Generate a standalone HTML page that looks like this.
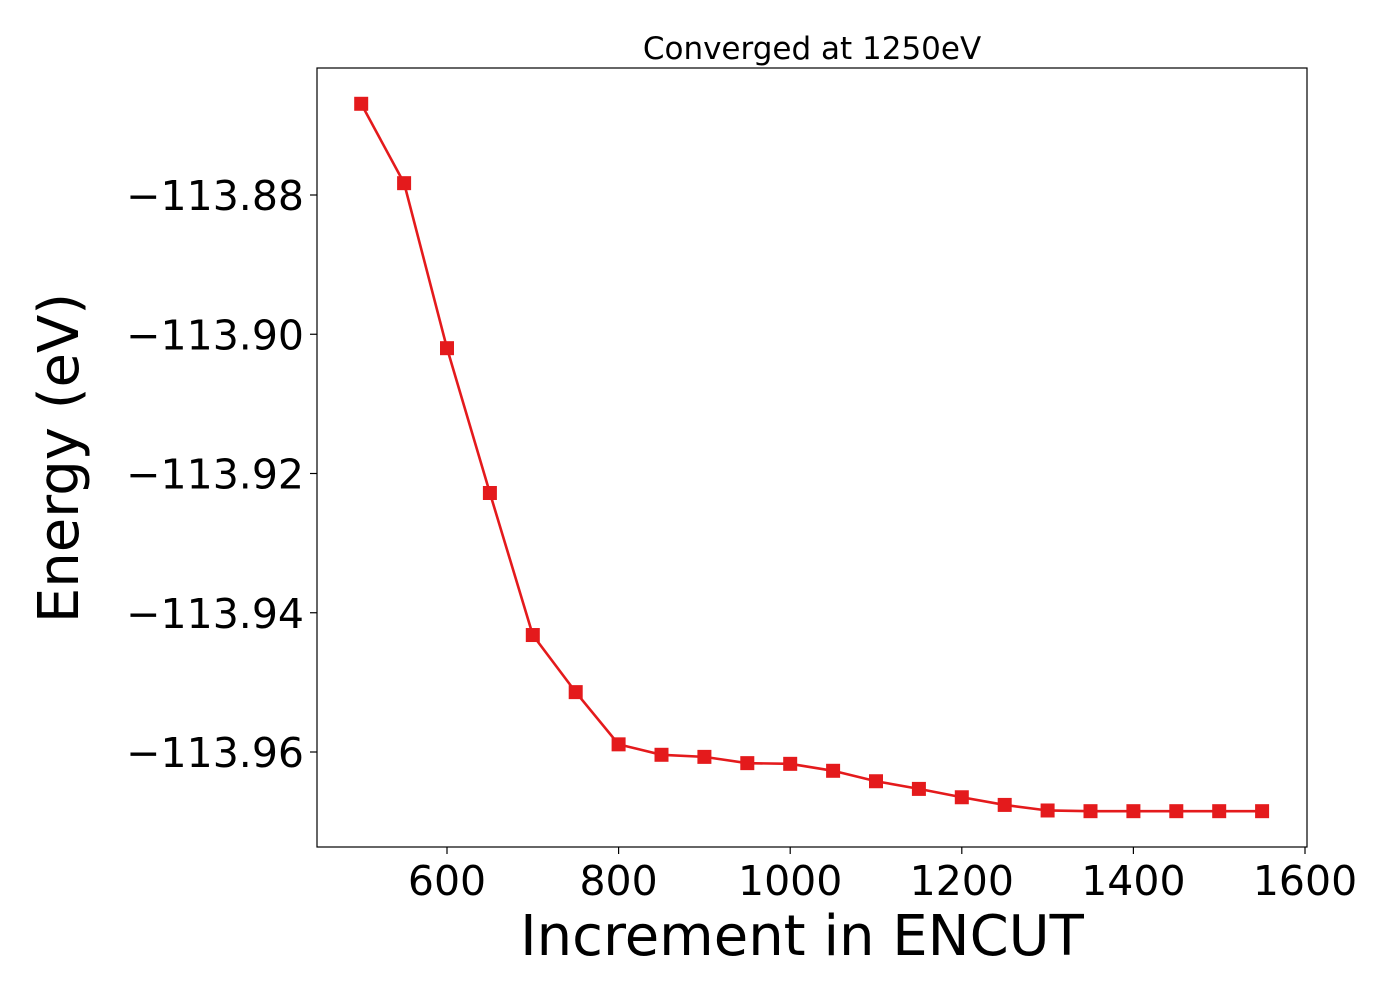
<!DOCTYPE html>
<html><head><meta charset="utf-8"><style>
body{margin:0;background:#fff;}
svg text{font-family:"DejaVu Sans","Liberation Sans",sans-serif;fill:#000;}
</style></head><body>
<svg width="1400" height="1000" viewBox="0 0 1400 1000">
<rect x="0" y="0" width="1400" height="1000" fill="#fff"/>
<g id="ticks"></g>
<g id="series"></g>
<rect x="317" y="68" width="990" height="779" fill="none" stroke="#000" stroke-width="1.2"/>
<text x="812" y="59" font-size="31" text-anchor="middle">Converged at 1250eV</text>
<text x="802" y="955" font-size="56" text-anchor="middle">Increment in ENCUT</text>
<text transform="translate(78,458) rotate(-90)" font-size="56" text-anchor="middle">Energy (eV)</text>
</svg>
<script>
const xValues=[500,550,600,650,700,750,800,850,900,950,1000,1050,1100,1150,1200,1250,1300,1350,1400,1450,1500,1550];
const energies=[-113.8669,-113.8783,-113.9020,-113.9228,-113.9432,-113.9514,-113.9589,-113.9604,-113.9607,-113.9616,-113.9617,-113.9627,-113.9642,-113.9653,-113.9665,-113.9676,-113.9684,-113.9685,-113.9685,-113.9685,-113.9685,-113.9685];
const xTicks=[600,800,1000,1200,1400,1600];
const yTicks=[-113.88,-113.90,-113.92,-113.94,-113.96];
const yTickLabels=["−113.88","−113.90","−113.92","−113.94","−113.96"];
const NS="http://www.w3.org/2000/svg";
function sx(v){return 447+(v-600)*0.858;}
function sy(v){return 195+(-113.88-v)*6962.5;}
const tg=document.getElementById('ticks');
xTicks.forEach(t=>{
 const l=document.createElementNS(NS,'line');
 l.setAttribute('x1',sx(t));l.setAttribute('x2',sx(t));l.setAttribute('y1',847);l.setAttribute('y2',854);l.setAttribute('stroke','#000');l.setAttribute('stroke-width','1.2');
 
 
 tg.appendChild(l);
 const tx=document.createElementNS(NS,'text');
 tx.setAttribute('x',sx(t));tx.setAttribute('y',895);tx.setAttribute('font-size','41');tx.setAttribute('text-anchor','middle');
 tx.textContent=t;
 
 
 tg.appendChild(tx);
});
yTicks.forEach((t,i)=>{
 const l=document.createElementNS(NS,'line');
 l.setAttribute('x1',310);l.setAttribute('x2',317);l.setAttribute('y1',sy(t));l.setAttribute('y2',sy(t));l.setAttribute('stroke','#000');l.setAttribute('stroke-width','1.2');
 
 
 tg.appendChild(l);
 const tx=document.createElementNS(NS,'text');
 tx.setAttribute('x',304);tx.setAttribute('y',sy(t)+15);tx.setAttribute('font-size','41');tx.setAttribute('text-anchor','end');
 tx.textContent=yTickLabels[i];
 
 
 tg.appendChild(tx);
});
const sg=document.getElementById('series');
const pl=document.createElementNS(NS,'polyline');
pl.setAttribute('points',xValues.map((x,i)=>sx(x)+','+sy(energies[i])).join(' '));
pl.setAttribute('fill','none');pl.setAttribute('stroke','#e41a1c');pl.setAttribute('stroke-width','2.6');


sg.appendChild(pl);
xValues.forEach((x,i)=>{
 const r=document.createElementNS(NS,'rect');
 r.setAttribute('x',sx(x)-7);r.setAttribute('y',sy(energies[i])-7);r.setAttribute('width',14);r.setAttribute('height',14);r.setAttribute('fill','#e41a1c');
 
 
 sg.appendChild(r);
});
</script>
</body></html>
